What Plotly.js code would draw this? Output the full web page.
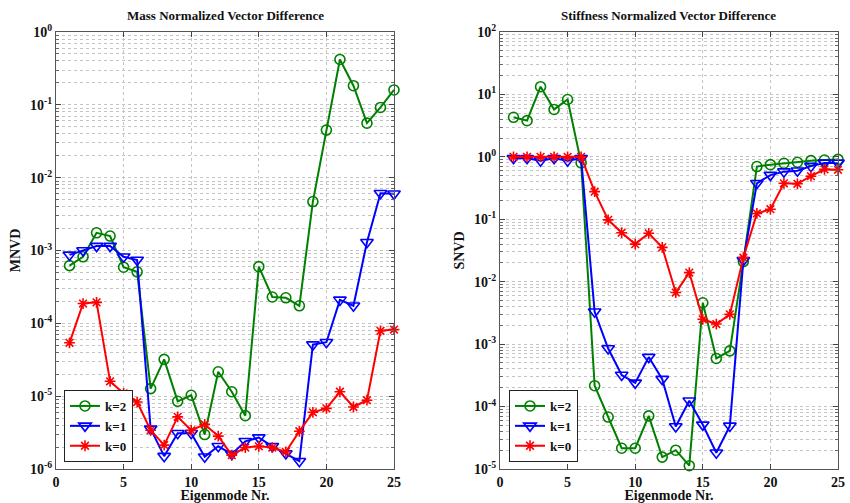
<!DOCTYPE html>
<html>
<head>
<meta charset="utf-8">
<script src="https://cdn.plot.ly/plotly-3.0.1.min.js"></script>
<style>html,body{margin:0;padding:0;background:#fff;}#chart{width:850px;height:503px;}</style>
</head>
<body>
<div id="chart"></div>
<script>
// ---- data ----
const modes = [1,2,3,4,5,6,7,8,9,10,11,12,13,14,15,16,17,18,19,20,21,22,23,24,25];
const seriesNames = ['k=2','k=1','k=0'];

// Mass Normalized Vector Difference (MNVD)
const mnvdK2 = [6.2e-4,8.2e-4,1.75e-3,1.58e-3,5.9e-4,5.1e-4,1.27e-5,3.2e-5,8.5e-6,1.03e-5,2.97e-6,2.16e-5,1.15e-5,5.4e-6,6.0e-4,2.3e-4,2.24e-4,1.74e-4,4.7e-3,0.045,0.42,0.183,0.056,0.092,0.16];
const mnvdK1 = [8.7e-4,1.0e-3,1.15e-3,1.15e-3,8.2e-4,7.4e-4,3.56e-6,1.5e-6,3.1e-6,3.1e-6,1.47e-6,2.05e-6,1.6e-6,2.4e-6,2.7e-6,2.05e-6,1.63e-6,1.28e-6,5.1e-5,5.5e-5,2.1e-4,1.74e-4,1.3e-3,6.1e-3,6.0e-3];
const mnvdK0 = [5.4e-5,1.87e-4,1.94e-4,1.6e-5,1.09e-5,8.3e-6,3.4e-6,2.13e-6,5.2e-6,3.4e-6,4.1e-6,2.83e-6,1.55e-6,1.97e-6,2.05e-6,1.97e-6,1.72e-6,3.3e-6,6.0e-6,6.8e-6,1.15e-5,7.1e-6,8.8e-6,7.9e-5,8.2e-5];

// Stiffness Normalized Vector Difference (SNVD)
const snvdK2 = [4.3,3.8,13.3,5.75,8.3,0.8,2.16e-4,6.8e-5,2.15e-5,2.15e-5,7.1e-5,1.55e-5,2.0e-5,1.13e-5,4.6e-3,5.9e-4,7.8e-4,0.021,0.7,0.75,0.79,0.82,0.87,0.89,0.91];
const snvdK1 = [0.95,0.95,0.87,0.95,0.87,0.95,3.3e-3,8.5e-4,3.2e-4,2.4e-4,6.2e-4,2.75e-4,4.8e-5,1.24e-4,5.1e-5,1.82e-5,4.9e-5,0.022,0.377,0.51,0.58,0.6,0.71,0.8,0.8];
const snvdK0 = [1.0,1.0,1.0,1.0,1.0,1.0,0.277,0.098,0.061,0.040,0.0596,0.0355,6.7e-3,0.014,2.5e-3,2.1e-3,3.0e-3,0.0243,0.124,0.145,0.377,0.37,0.49,0.63,0.62];

const xTicks = [0,5,10,15,20,25];
const leftYTicks = [1e-6,1e-5,1e-4,1e-3,1e-2,1e-1,1];
const leftYTickText = ['10<sup>-6</sup>','10<sup>-5</sup>','10<sup>-4</sup>','10<sup>-3</sup>','10<sup>-2</sup>','10<sup>-1</sup>','10<sup>0</sup>'];
const rightYTicks = [1e-5,1e-4,1e-3,1e-2,1e-1,1,10,100];
const rightYTickText = ['10<sup>-5</sup>','10<sup>-4</sup>','10<sup>-3</sup>','10<sup>-2</sup>','10<sup>-1</sup>','10<sup>0</sup>','10<sup>1</sup>','10<sup>2</sup>'];

// ---- styling ----
const FONT = 'Liberation Serif';
const colors = ['#008000','#0000ff','#ff0000'];
const symbols = ['circle-open','triangle-down-open','asterisk-open'];
const msizes = [10,11,9];

function minorVals(lo, hi){
  const v=[];
  for(let e=lo;e<hi;e++){for(let m=2;m<=9;m++){v.push(m*Math.pow(10,e));}}
  return v;
}
const bold = s => '<b>'+s+'</b>';

function mk(ys, i, xa, ya, leg){
  return {
    x: modes, y: ys, xaxis: xa, yaxis: ya, name: bold(seriesNames[i]), legend: leg,
    type:'scatter', mode:'lines+markers', cliponaxis:false,
    line:{color:colors[i], width:2},
    marker:{symbol:symbols[i], size:msizes[i], color:colors[i], line:{color:colors[i], width:1.6}}
  };
}

const traces = [
  mk(mnvdK2,0,'x','y','legend'), mk(mnvdK1,1,'x','y','legend'), mk(mnvdK0,2,'x','y','legend'),
  mk(snvdK2,0,'x2','y2','legend2'), mk(snvdK1,1,'x2','y2','legend2'), mk(snvdK0,2,'x2','y2','legend2')
];

const gridCol = '#c4c4c4';
function xAxis(dom, anchor){
  return {
    domain: dom, anchor: anchor, range:[0,25], tickvals: xTicks, ticktext: xTicks.map(v=>bold(String(v))),
    ticks:'inside', ticklen:5, tickcolor:'#444', showline:true, linecolor:'#555', linewidth:1, mirror:'ticks',
    showgrid:true, gridcolor:gridCol, griddash:'dot', gridwidth:1, zeroline:false,
    tickfont:{family:FONT, size:14, color:'#111'},
    title:{text:bold('Eigenmode Nr.'), font:{family:FONT, size:14, color:'#111'}, standoff:1}
  };
}
function yAxis(dom, anchor, lo, hi, tv, tt, label){
  return {
    domain: dom, anchor: anchor, type:'log', range:[lo,hi], tickvals: tv, ticktext: tt.map(bold),
    ticks:'inside', ticklen:5, tickcolor:'#444', showline:true, linecolor:'#555', linewidth:1, mirror:'ticks',
    showgrid:true, gridcolor:gridCol, griddash:'dot', gridwidth:1, zeroline:false,
    minor:{tickvals: minorVals(lo,hi), ticks:'inside', ticklen:3, tickcolor:'#666', showgrid:true, gridcolor:gridCol, griddash:'dot', gridwidth:1},
    tickfont:{family:FONT, size:14, color:'#111'},
    title:{text:bold(label), font:{family:FONT, size:14, color:'#111'}, standoff:6}
  };
}

const yDom = [34/503, 471/503];
const legendBase = {xanchor:'left', yanchor:'bottom', bgcolor:'#fff', bordercolor:'#222', borderwidth:1,
  font:{family:FONT, size:13, color:'#111'}, tracegroupgap:0, itemwidth:30};
const layout = {
  width:850, height:503, margin:{l:0,r:0,t:0,b:0},
  font:{family:FONT, size:14, color:'#111'},
  paper_bgcolor:'#fff', plot_bgcolor:'#fff', showlegend:true,
  xaxis: xAxis([56/850, 394/850], 'y'),
  yaxis: yAxis(yDom, 'x', -6, 0, leftYTicks, leftYTickText, 'MNVD'),
  xaxis2: xAxis([500/850, 838/850], 'y2'),
  yaxis2: yAxis(yDom, 'x2', -5, 2, rightYTicks, rightYTickText, 'SNVD'),
  legend: Object.assign({}, legendBase, {x:64/850, y:(503-462)/503}),
  legend2: Object.assign({}, legendBase, {x:509/850, y:(503-462)/503}),
  annotations:[
    {text:bold('Mass Normalized Vector Difference'), x:225/850, y:1-15/503, xref:'paper', yref:'paper', showarrow:false,
     font:{family:FONT, size:13, color:'#111'}, xanchor:'center', yanchor:'middle'},
    {text:bold('Stiffness Normalized Vector Difference'), x:668/850, y:1-15/503, xref:'paper', yref:'paper', showarrow:false,
     font:{family:FONT, size:13, color:'#111'}, xanchor:'center', yanchor:'middle'}
  ]
};

Plotly.newPlot('chart', traces, layout, {displayModeBar:false, staticPlot:true});
</script>
</body>
</html>
